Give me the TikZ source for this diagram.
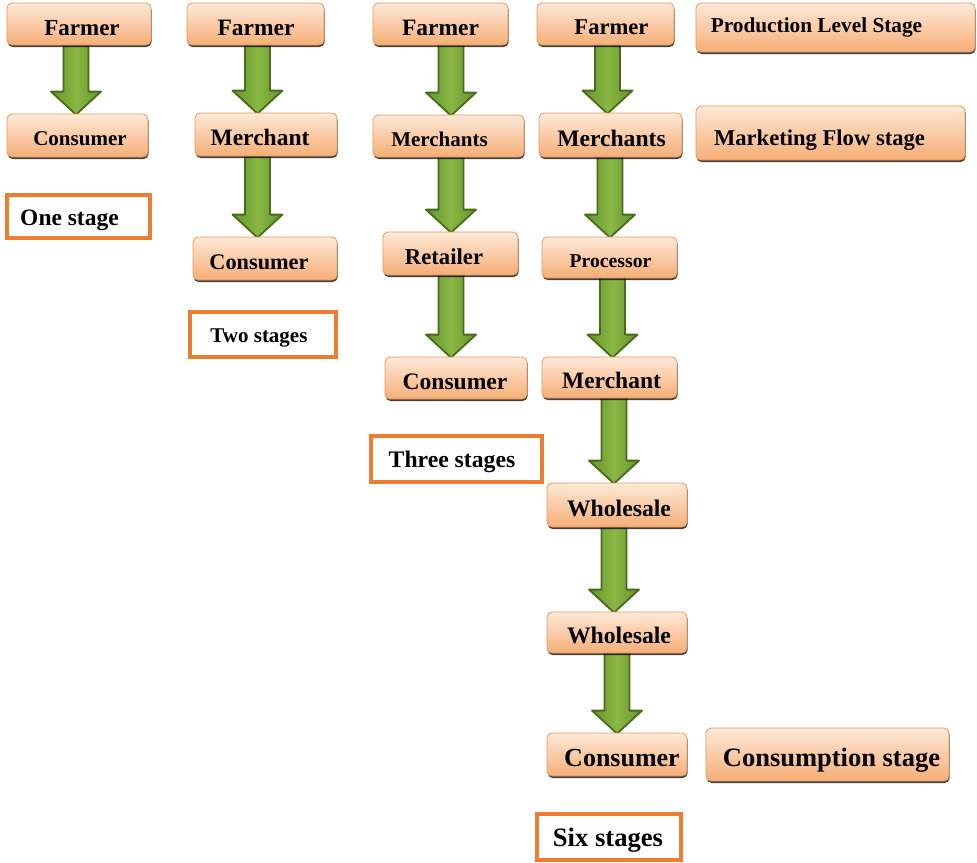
\documentclass[tikz,border=0pt]{standalone}
\usepackage{fontspec}
\setmainfont{Liberation Serif}
\usetikzlibrary{calc,shadows,backgrounds}
\definecolor{otop}{HTML}{FEE9D8}
\definecolor{obot}{HTML}{F6AE76}
\definecolor{oedge}{HTML}{E59B5E}
\definecolor{stedge}{HTML}{ED7D31}
\definecolor{gdark}{HTML}{4A6B1C}
\definecolor{gside}{HTML}{64942A}
\definecolor{gmid}{HTML}{89B845}
\tikzset{
  obox/.style={rounded corners=5pt, draw=oedge, line width=0.8pt, top color=otop, bottom color=obot,
    drop shadow={shadow xshift=0.6pt, shadow yshift=-2pt, fill=black, opacity=0.75}, inner sep=0pt},
  stagebox/.style={draw=stedge, line width=3.5pt, fill=white, inner sep=0pt},
  garr/.style={draw=gdark, line width=1.8pt, line join=round, left color=gside, right color=gside, middle color=gmid}
}
% [#1 text down shift], #2 name, #3 x1, #4 x2, #5 y1, #6 y2, #7 font size, #8 text x shift, #9 text
\newcommand\obox[9][3.5]{%
  \pgfmathsetmacro\bw{#4-#3}\pgfmathsetmacro\bh{#6-#5}%
  \pgfmathsetmacro\bcx{(#3+#4)/2}\pgfmathsetmacro\bcy{-(#5+#6)/2}%
  \pgfmathsetmacro\bth{0.66*#7+2*#1}%
  \node[obox, minimum width=\bw pt, minimum height=\bh pt, text height=\bth pt, text depth=0pt,
    font=\fontsize{#7}{#7}\selectfont\bfseries] (#2) at (\bcx,\bcy) {\kern#8pt#9\kern-#8pt\relax};}
\newcommand\stbox[9][1]{%
  \pgfmathsetmacro\bw{#4-#3}\pgfmathsetmacro\bh{#6-#5}%
  \pgfmathsetmacro\bcx{(#3+#4)/2}\pgfmathsetmacro\bcy{-(#5+#6)/2}%
  \pgfmathsetmacro\bth{0.66*#7+2*#1}%
  \node[stagebox, minimum width=\bw pt, minimum height=\bh pt, text height=\bth pt, text depth=0pt,
    font=\fontsize{#7}{#7}\selectfont\bfseries] (#2) at (\bcx,\bcy) {\kern#8pt#9\kern-#8pt\relax};}
% block arrow from node #1 to node #2 at centre x #3
\newcommand\garrow[3]{%
  \path let \p1=(#1.south), \p2=(#2.north) in
    [garr] ({#3pt-12.5pt},{\y1+2pt}) -- ({#3pt-12.5pt},{\y2+22pt}) -- ({#3pt-25pt},{\y2+22pt})
    -- ({#3pt},{\y2-1pt}) -- ({#3pt+25pt},{\y2+22pt}) -- ({#3pt+12.5pt},{\y2+22pt})
    -- ({#3pt+12.5pt},{\y1+2pt}) -- cycle;}
\begin{document}
\begin{tikzpicture}[x=1pt,y=1pt]
\begin{pgfonlayer}{background}
\fill[white] (0,0) rectangle (977,-862);
\end{pgfonlayer}
\path[use as bounding box] (0,0) rectangle (977,-862);
% column 1
\obox{a1}{7}{151}{3}{45}{23}{3}{Farmer}
\obox{a2}{7}{148}{114}{157}{21}{2.5}{Consumer}
\stbox{a3}{7}{150}{195}{238}{23.5}{-9}{One stage}
% column 2
\obox{b1}{187}{324}{3}{45}{23.5}{0.5}{Farmer}
\obox{b2}{195}{337}{113}{156}{23.5}{-6}{Merchant}
\obox{b3}{193}{337}{237}{280}{22.3}{-6}{Consumer}
\stbox{b4}{190}{336}{312}{357}{21}{-4}{Two stages}
% column 3
\obox{c1}{373}{508}{3}{45}{23.5}{0}{Farmer}
\obox{c2}{373}{524}{115}{157}{21}{-9}{Merchants}
\obox{c3}{383}{518}{232}{275}{22.7}{-6.5}{Retailer}
\obox{c4}{385}{527}{357}{399}{23.6}{-1}{Consumer}
\stbox{c5}{371}{542}{436}{482}{23.7}{-4.5}{Three stages}
% column 4
\obox{d1}{537}{674}{3}{45}{22.6}{6}{Farmer}
\obox{d2}{539}{682}{113}{157}{23.6}{1}{Merchants}
\obox{d3}{542}{677}{237}{278}{19.7}{1}{Processor}
\obox{d4}{542}{677}{357}{398}{23.5}{2}{Merchant}
\obox{d5}{547}{687}{483}{527}{23.7}{2}{Wholesale}
\obox{d6}{547}{687}{612}{653}{23.7}{2}{Wholesale}
\obox{d7}{547}{687}{733}{776}{26}{5}{Consumer}
\stbox{d8}{537}{681}{814}{860}{26.6}{-1}{Six stages}
% stage labels
\obox[-2]{e1}{696}{975}{3}{52}{21.3}{-19}{Production Level Stage}
\obox[5.5]{e2}{696}{965}{106}{160}{22.6}{-11}{Marketing Flow stage}
\obox{e3}{706}{949}{728}{781}{26.5}{4}{Consumption stage}
% arrows
\begin{pgfonlayer}{background}
\garrow{a1}{a2}{76}
\garrow{b1}{b2}{257.5}
\garrow{b2}{b3}{257.5}
\garrow{c1}{c2}{451}
\garrow{c2}{c3}{451}
\garrow{c3}{c4}{451}
\garrow{d1}{d2}{607.5}
\garrow{d2}{d3}{610}
\garrow{d3}{d4}{612.5}
\garrow{d4}{d5}{614}
\garrow{d5}{d6}{614}
\garrow{d6}{d7}{617}
\end{pgfonlayer}
\end{tikzpicture}
\end{document}
